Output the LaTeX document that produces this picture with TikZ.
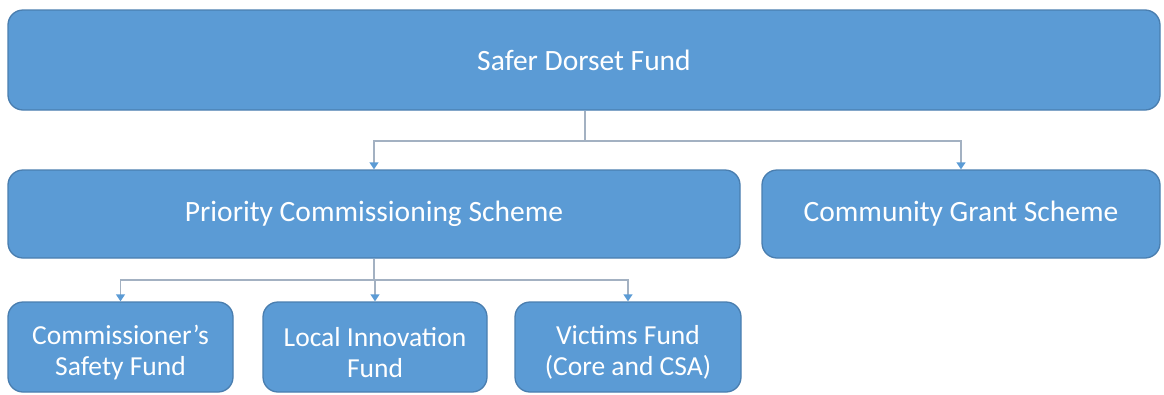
\documentclass[tikz,border=0pt]{standalone}
\usepackage{fontspec}
\setmainfont{Carlito}
\usetikzlibrary{arrows.meta}
\definecolor{boxfill}{HTML}{5B9BD5}
\definecolor{boxedge}{HTML}{4A7EAF}
\definecolor{linkgray}{HTML}{A3B1C2}
\tikzset{
  fundbox/.style={draw=boxedge, line width=1.3pt, fill=boxfill, rounded corners=15pt,
    text=white, align=center, inner sep=0pt, font=\fontsize{29.5}{31}\selectfont},
  boxtext/.style={text=white, align=center, inner sep=0pt, font=\fontsize{27.5}{31}\selectfont},
  link/.style={draw=linkgray, line width=1.3pt,
    -{Triangle[width=9pt,length=7pt,color=boxfill,fill=boxfill]}},
  plain/.style={draw=linkgray, line width=1.3pt}
}
\begin{document}
\begin{tikzpicture}[x=1pt,y=-1pt]
\useasboundingbox (0,0) rectangle (1164,394);
% top level
\node[fundbox, minimum width=1152pt, minimum height=100pt] (sdf) at (584,60) {Safer Dorset Fund};
% second level
\node[fundbox, minimum width=732pt, minimum height=88pt] (pcs) at (374,214) {Priority Commissioning Scheme};
\node[fundbox, minimum width=398pt, minimum height=88pt] (cgs) at (961,214) {Community Grant Scheme};
% third level: boxes, then their two-line captions set a little low
\node[fundbox, minimum width=225pt, minimum height=90pt] (csf) at (120.5,347) {};
\node[fundbox, minimum width=224pt, minimum height=90pt] (lif) at (375,347) {};
\node[fundbox, minimum width=226pt, minimum height=90pt] (vf) at (628,347) {};
\node[boxtext] (csft) at ([yshift=-5.5pt]csf.center) {Commissioner’s\\Safety Fund};
\node[boxtext] (lift) at ([yshift=-5.5pt]lif.center) {Local Innovation\\Fund};
\node[boxtext] (vft) at ([yshift=-5.5pt]vf.center) {Victims Fund\\(Core and CSA)};
% connectors
\coordinate (j1) at (585,141);
\coordinate (j2) at (374,280);
\draw[plain] (sdf.south -| j1) -- (j1);
\draw[link] (j1) -| (pcs.north);
\draw[link] (j1) -| (cgs.north);
\draw[plain] (pcs.south -| j2) -- (j2);
\draw[link] (j2) -| (csf.north);
\draw[link] (j2) -| (lif.north);
\draw[link] (j2) -| (vf.north);
\end{tikzpicture}
\end{document}
